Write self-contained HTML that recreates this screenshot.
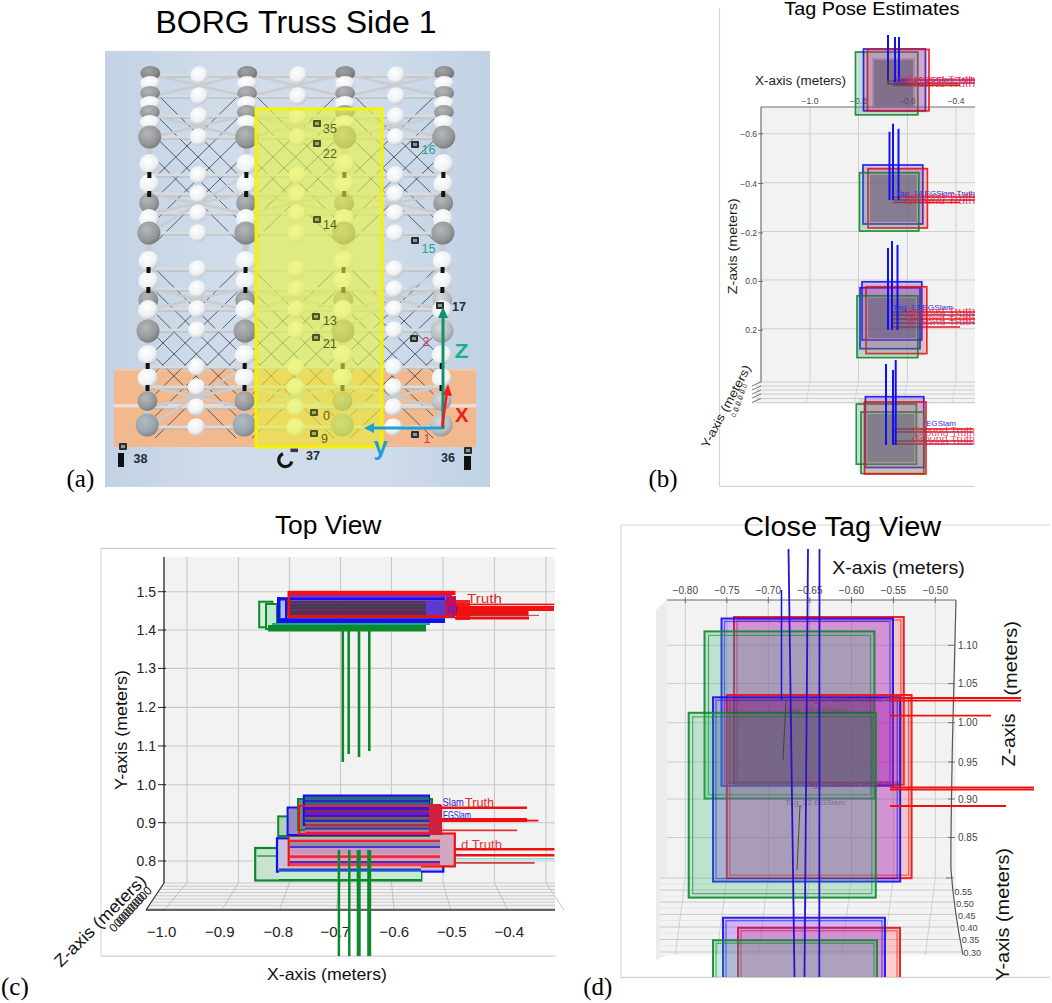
<!DOCTYPE html>
<html><head><meta charset="utf-8"><style>
html,body{margin:0;padding:0;background:#fff;overflow:hidden;}
svg{display:block;}
</style></head><body>
<svg width="1052" height="1003" viewBox="0 0 1052 1003">
<defs>
<linearGradient id="abg" x1="0" y1="0" x2="1" y2="0">
 <stop offset="0" stop-color="#c2d2e4"/><stop offset="0.3" stop-color="#d0dcea"/><stop offset="0.7" stop-color="#d0dcea"/><stop offset="1" stop-color="#c0d1e4"/>
</linearGradient>
<radialGradient id="gw" cx="0.4" cy="0.35" r="0.65"><stop offset="0" stop-color="#ffffff"/><stop offset="0.7" stop-color="#eef0f2"/><stop offset="1" stop-color="#c4c8cc"/></radialGradient>
<radialGradient id="gg" cx="0.4" cy="0.35" r="0.65"><stop offset="0" stop-color="#b4b6b8"/><stop offset="0.7" stop-color="#96989a"/><stop offset="1" stop-color="#7c7e80"/></radialGradient>
<radialGradient id="gl" cx="0.4" cy="0.35" r="0.65"><stop offset="0" stop-color="#d8dadc"/><stop offset="0.7" stop-color="#b8bcc0"/><stop offset="1" stop-color="#9aa0a6"/></radialGradient>
<radialGradient id="gbl" cx="0.4" cy="0.35" r="0.65"><stop offset="0" stop-color="#b4bcc4"/><stop offset="0.7" stop-color="#98a4ae"/><stop offset="1" stop-color="#808a94"/></radialGradient>
<radialGradient id="gd" cx="0.4" cy="0.35" r="0.65"><stop offset="0" stop-color="#a0a2a4"/><stop offset="0.7" stop-color="#86888a"/><stop offset="1" stop-color="#6c6e70"/></radialGradient>
</defs>
<text x="155.5" y="33" font-family="Liberation Sans" font-size="31" fill="#000" textLength="281" lengthAdjust="spacingAndGlyphs">BORG Truss Side 1</text>
<rect x="105" y="51" width="385" height="436" fill="url(#abg)"/>
<rect x="114" y="369" width="362" height="78" fill="#f2b98e"/>
<rect x="114" y="404" width="362" height="3.5" fill="#ecdcd4" stroke="none" stroke-width="1"/>
<rect x="114" y="369" width="362" height="2" fill="#f3c6a5" stroke="none" stroke-width="1"/>
<g transform="translate(0.9,0) skewX(-0.5)">
<line x1="158" y1="95" x2="239" y2="175" stroke="#2c3848" stroke-width="0.9" opacity="0.85"/>
<line x1="239" y1="95" x2="158" y2="175" stroke="#2c3848" stroke-width="0.9" opacity="0.85"/>
<line x1="158" y1="117" x2="239" y2="197" stroke="#2c3848" stroke-width="0.9" opacity="0.85"/>
<line x1="239" y1="117" x2="158" y2="197" stroke="#2c3848" stroke-width="0.9" opacity="0.85"/>
<line x1="158" y1="139" x2="239" y2="219" stroke="#2c3848" stroke-width="0.9" opacity="0.85"/>
<line x1="239" y1="139" x2="158" y2="219" stroke="#2c3848" stroke-width="0.9" opacity="0.85"/>
<line x1="158" y1="161" x2="239" y2="241" stroke="#2c3848" stroke-width="0.9" opacity="0.85"/>
<line x1="239" y1="161" x2="158" y2="241" stroke="#2c3848" stroke-width="0.9" opacity="0.85"/>
<line x1="158" y1="270" x2="239" y2="350" stroke="#2c3848" stroke-width="0.9" opacity="0.85"/>
<line x1="239" y1="270" x2="158" y2="350" stroke="#2c3848" stroke-width="0.9" opacity="0.85"/>
<line x1="158" y1="292" x2="239" y2="372" stroke="#2c3848" stroke-width="0.9" opacity="0.85"/>
<line x1="239" y1="292" x2="158" y2="372" stroke="#2c3848" stroke-width="0.9" opacity="0.85"/>
<line x1="158" y1="314" x2="239" y2="394" stroke="#2c3848" stroke-width="0.9" opacity="0.85"/>
<line x1="239" y1="314" x2="158" y2="394" stroke="#2c3848" stroke-width="0.9" opacity="0.85"/>
<line x1="158" y1="336" x2="239" y2="416" stroke="#2c3848" stroke-width="0.9" opacity="0.85"/>
<line x1="239" y1="336" x2="158" y2="416" stroke="#2c3848" stroke-width="0.9" opacity="0.85"/>
<line x1="158" y1="358" x2="239" y2="438" stroke="#2c3848" stroke-width="0.9" opacity="0.85"/>
<line x1="239" y1="358" x2="158" y2="438" stroke="#2c3848" stroke-width="0.9" opacity="0.85"/>
<line x1="255" y1="95" x2="337" y2="175" stroke="#2c3848" stroke-width="0.9" opacity="0.85"/>
<line x1="337" y1="95" x2="255" y2="175" stroke="#2c3848" stroke-width="0.9" opacity="0.85"/>
<line x1="255" y1="117" x2="337" y2="197" stroke="#2c3848" stroke-width="0.9" opacity="0.85"/>
<line x1="337" y1="117" x2="255" y2="197" stroke="#2c3848" stroke-width="0.9" opacity="0.85"/>
<line x1="255" y1="139" x2="337" y2="219" stroke="#2c3848" stroke-width="0.9" opacity="0.85"/>
<line x1="337" y1="139" x2="255" y2="219" stroke="#2c3848" stroke-width="0.9" opacity="0.85"/>
<line x1="255" y1="161" x2="337" y2="241" stroke="#2c3848" stroke-width="0.9" opacity="0.85"/>
<line x1="337" y1="161" x2="255" y2="241" stroke="#2c3848" stroke-width="0.9" opacity="0.85"/>
<line x1="255" y1="270" x2="337" y2="350" stroke="#2c3848" stroke-width="0.9" opacity="0.85"/>
<line x1="337" y1="270" x2="255" y2="350" stroke="#2c3848" stroke-width="0.9" opacity="0.85"/>
<line x1="255" y1="292" x2="337" y2="372" stroke="#2c3848" stroke-width="0.9" opacity="0.85"/>
<line x1="337" y1="292" x2="255" y2="372" stroke="#2c3848" stroke-width="0.9" opacity="0.85"/>
<line x1="255" y1="314" x2="337" y2="394" stroke="#2c3848" stroke-width="0.9" opacity="0.85"/>
<line x1="337" y1="314" x2="255" y2="394" stroke="#2c3848" stroke-width="0.9" opacity="0.85"/>
<line x1="255" y1="336" x2="337" y2="416" stroke="#2c3848" stroke-width="0.9" opacity="0.85"/>
<line x1="337" y1="336" x2="255" y2="416" stroke="#2c3848" stroke-width="0.9" opacity="0.85"/>
<line x1="255" y1="358" x2="337" y2="438" stroke="#2c3848" stroke-width="0.9" opacity="0.85"/>
<line x1="337" y1="358" x2="255" y2="438" stroke="#2c3848" stroke-width="0.9" opacity="0.85"/>
<line x1="353" y1="95" x2="436" y2="175" stroke="#2c3848" stroke-width="0.9" opacity="0.85"/>
<line x1="436" y1="95" x2="353" y2="175" stroke="#2c3848" stroke-width="0.9" opacity="0.85"/>
<line x1="353" y1="117" x2="436" y2="197" stroke="#2c3848" stroke-width="0.9" opacity="0.85"/>
<line x1="436" y1="117" x2="353" y2="197" stroke="#2c3848" stroke-width="0.9" opacity="0.85"/>
<line x1="353" y1="139" x2="436" y2="219" stroke="#2c3848" stroke-width="0.9" opacity="0.85"/>
<line x1="436" y1="139" x2="353" y2="219" stroke="#2c3848" stroke-width="0.9" opacity="0.85"/>
<line x1="353" y1="161" x2="436" y2="241" stroke="#2c3848" stroke-width="0.9" opacity="0.85"/>
<line x1="436" y1="161" x2="353" y2="241" stroke="#2c3848" stroke-width="0.9" opacity="0.85"/>
<line x1="353" y1="270" x2="436" y2="350" stroke="#2c3848" stroke-width="0.9" opacity="0.85"/>
<line x1="436" y1="270" x2="353" y2="350" stroke="#2c3848" stroke-width="0.9" opacity="0.85"/>
<line x1="353" y1="292" x2="436" y2="372" stroke="#2c3848" stroke-width="0.9" opacity="0.85"/>
<line x1="436" y1="292" x2="353" y2="372" stroke="#2c3848" stroke-width="0.9" opacity="0.85"/>
<line x1="353" y1="314" x2="436" y2="394" stroke="#2c3848" stroke-width="0.9" opacity="0.85"/>
<line x1="436" y1="314" x2="353" y2="394" stroke="#2c3848" stroke-width="0.9" opacity="0.85"/>
<line x1="353" y1="336" x2="436" y2="416" stroke="#2c3848" stroke-width="0.9" opacity="0.85"/>
<line x1="436" y1="336" x2="353" y2="416" stroke="#2c3848" stroke-width="0.9" opacity="0.85"/>
<line x1="353" y1="358" x2="436" y2="438" stroke="#2c3848" stroke-width="0.9" opacity="0.85"/>
<line x1="436" y1="358" x2="353" y2="438" stroke="#2c3848" stroke-width="0.9" opacity="0.85"/>
<line x1="150" y1="75" x2="444" y2="75" stroke="#d9dcdf" stroke-width="3"/>
<line x1="150" y1="77" x2="444" y2="77" stroke="#a9afb5" stroke-width="0.8"/>
<line x1="150" y1="96" x2="444" y2="96" stroke="#d9dcdf" stroke-width="3"/>
<line x1="150" y1="98" x2="444" y2="98" stroke="#a9afb5" stroke-width="0.8"/>
<line x1="150" y1="116" x2="444" y2="116" stroke="#d9dcdf" stroke-width="3"/>
<line x1="150" y1="118" x2="444" y2="118" stroke="#a9afb5" stroke-width="0.8"/>
<line x1="150" y1="137" x2="444" y2="137" stroke="#d9dcdf" stroke-width="3"/>
<line x1="150" y1="139" x2="444" y2="139" stroke="#a9afb5" stroke-width="0.8"/>
<line x1="150" y1="175" x2="444" y2="175" stroke="#d9dcdf" stroke-width="3"/>
<line x1="150" y1="177" x2="444" y2="177" stroke="#a9afb5" stroke-width="0.8"/>
<line x1="150" y1="194" x2="444" y2="194" stroke="#d9dcdf" stroke-width="3"/>
<line x1="150" y1="196" x2="444" y2="196" stroke="#a9afb5" stroke-width="0.8"/>
<line x1="150" y1="213" x2="444" y2="213" stroke="#d9dcdf" stroke-width="3"/>
<line x1="150" y1="215" x2="444" y2="215" stroke="#a9afb5" stroke-width="0.8"/>
<line x1="150" y1="233" x2="444" y2="233" stroke="#d9dcdf" stroke-width="3"/>
<line x1="150" y1="235" x2="444" y2="235" stroke="#a9afb5" stroke-width="0.8"/>
<line x1="150" y1="269" x2="444" y2="269" stroke="#d9dcdf" stroke-width="3"/>
<line x1="150" y1="271" x2="444" y2="271" stroke="#a9afb5" stroke-width="0.8"/>
<line x1="150" y1="289" x2="444" y2="289" stroke="#d9dcdf" stroke-width="3"/>
<line x1="150" y1="291" x2="444" y2="291" stroke="#a9afb5" stroke-width="0.8"/>
<line x1="150" y1="309" x2="444" y2="309" stroke="#d9dcdf" stroke-width="3"/>
<line x1="150" y1="311" x2="444" y2="311" stroke="#a9afb5" stroke-width="0.8"/>
<line x1="150" y1="330" x2="444" y2="330" stroke="#d9dcdf" stroke-width="3"/>
<line x1="150" y1="332" x2="444" y2="332" stroke="#a9afb5" stroke-width="0.8"/>
<line x1="150" y1="367" x2="444" y2="367" stroke="#d9dcdf" stroke-width="3"/>
<line x1="150" y1="369" x2="444" y2="369" stroke="#a9afb5" stroke-width="0.8"/>
<line x1="150" y1="387" x2="444" y2="387" stroke="#d9dcdf" stroke-width="3"/>
<line x1="150" y1="389" x2="444" y2="389" stroke="#a9afb5" stroke-width="0.8"/>
<line x1="150" y1="407" x2="444" y2="407" stroke="#d9dcdf" stroke-width="3"/>
<line x1="150" y1="409" x2="444" y2="409" stroke="#a9afb5" stroke-width="0.8"/>
<line x1="150" y1="427" x2="444" y2="427" stroke="#d9dcdf" stroke-width="3"/>
<line x1="150" y1="429" x2="444" y2="429" stroke="#a9afb5" stroke-width="0.8"/>
<line x1="158" y1="76" x2="239" y2="95" stroke="#c9cdd1" stroke-width="2.6"/>
<line x1="158" y1="95" x2="239" y2="76" stroke="#c9cdd1" stroke-width="2.6"/>
<line x1="158" y1="117" x2="239" y2="136" stroke="#c9cdd1" stroke-width="2.6"/>
<line x1="158" y1="136" x2="239" y2="117" stroke="#c9cdd1" stroke-width="2.6"/>
<line x1="158" y1="195" x2="239" y2="212" stroke="#c9cdd1" stroke-width="2.6"/>
<line x1="158" y1="212" x2="239" y2="195" stroke="#c9cdd1" stroke-width="2.6"/>
<line x1="158" y1="290" x2="239" y2="308" stroke="#c9cdd1" stroke-width="2.6"/>
<line x1="158" y1="308" x2="239" y2="290" stroke="#c9cdd1" stroke-width="2.6"/>
<line x1="158" y1="388" x2="239" y2="406" stroke="#c9cdd1" stroke-width="2.6"/>
<line x1="158" y1="406" x2="239" y2="388" stroke="#c9cdd1" stroke-width="2.6"/>
<line x1="255" y1="76" x2="337" y2="95" stroke="#c9cdd1" stroke-width="2.6"/>
<line x1="255" y1="95" x2="337" y2="76" stroke="#c9cdd1" stroke-width="2.6"/>
<line x1="255" y1="117" x2="337" y2="136" stroke="#c9cdd1" stroke-width="2.6"/>
<line x1="255" y1="136" x2="337" y2="117" stroke="#c9cdd1" stroke-width="2.6"/>
<line x1="255" y1="195" x2="337" y2="212" stroke="#c9cdd1" stroke-width="2.6"/>
<line x1="255" y1="212" x2="337" y2="195" stroke="#c9cdd1" stroke-width="2.6"/>
<line x1="255" y1="290" x2="337" y2="308" stroke="#c9cdd1" stroke-width="2.6"/>
<line x1="255" y1="308" x2="337" y2="290" stroke="#c9cdd1" stroke-width="2.6"/>
<line x1="255" y1="388" x2="337" y2="406" stroke="#c9cdd1" stroke-width="2.6"/>
<line x1="255" y1="406" x2="337" y2="388" stroke="#c9cdd1" stroke-width="2.6"/>
<line x1="353" y1="76" x2="436" y2="95" stroke="#c9cdd1" stroke-width="2.6"/>
<line x1="353" y1="95" x2="436" y2="76" stroke="#c9cdd1" stroke-width="2.6"/>
<line x1="353" y1="117" x2="436" y2="136" stroke="#c9cdd1" stroke-width="2.6"/>
<line x1="353" y1="136" x2="436" y2="117" stroke="#c9cdd1" stroke-width="2.6"/>
<line x1="353" y1="195" x2="436" y2="212" stroke="#c9cdd1" stroke-width="2.6"/>
<line x1="353" y1="212" x2="436" y2="195" stroke="#c9cdd1" stroke-width="2.6"/>
<line x1="353" y1="290" x2="436" y2="308" stroke="#c9cdd1" stroke-width="2.6"/>
<line x1="353" y1="308" x2="436" y2="290" stroke="#c9cdd1" stroke-width="2.6"/>
<line x1="353" y1="388" x2="436" y2="406" stroke="#c9cdd1" stroke-width="2.6"/>
<line x1="353" y1="406" x2="436" y2="388" stroke="#c9cdd1" stroke-width="2.6"/>
<line x1="150" y1="233" x2="247" y2="175" stroke="#c9cdd1" stroke-width="2.5"/>
<line x1="345" y1="330" x2="444" y2="269" stroke="#c9cdd1" stroke-width="2.5"/>
<line x1="150" y1="427" x2="247" y2="367" stroke="#c9cdd1" stroke-width="2.5"/>
<rect x="147" y="70" width="6" height="365" fill="#c8cccf" stroke="none" stroke-width="1"/>
<rect x="244" y="70" width="6" height="365" fill="#c8cccf" stroke="none" stroke-width="1"/>
<rect x="342" y="70" width="6" height="365" fill="#c8cccf" stroke="none" stroke-width="1"/>
<rect x="441" y="70" width="6" height="365" fill="#c8cccf" stroke="none" stroke-width="1"/>
<circle cx="199" cy="75" r="8.8" fill="url(#gw)"/>
<circle cx="199" cy="96" r="8.8" fill="url(#gw)"/>
<circle cx="199" cy="116" r="8.8" fill="url(#gw)"/>
<circle cx="199" cy="137" r="8.8" fill="url(#gw)"/>
<circle cx="199" cy="175" r="8.8" fill="url(#gw)"/>
<circle cx="199" cy="194" r="8.8" fill="url(#gw)"/>
<circle cx="199" cy="213" r="8.8" fill="url(#gw)"/>
<circle cx="199" cy="233" r="8.8" fill="url(#gw)"/>
<circle cx="199" cy="269" r="8.8" fill="url(#gw)"/>
<circle cx="199" cy="289" r="8.8" fill="url(#gw)"/>
<circle cx="199" cy="309" r="8.8" fill="url(#gw)"/>
<circle cx="199" cy="330" r="8.8" fill="url(#gw)"/>
<circle cx="199" cy="367" r="8.8" fill="url(#gw)"/>
<circle cx="199" cy="387" r="8.8" fill="url(#gw)"/>
<circle cx="199" cy="407" r="8.8" fill="url(#gw)"/>
<circle cx="199" cy="427" r="8.8" fill="url(#gw)"/>
<circle cx="298" cy="75" r="8.8" fill="url(#gw)"/>
<circle cx="298" cy="96" r="8.8" fill="url(#gw)"/>
<circle cx="298" cy="116" r="8.8" fill="url(#gw)"/>
<circle cx="298" cy="137" r="8.8" fill="url(#gw)"/>
<circle cx="298" cy="175" r="8.8" fill="url(#gw)"/>
<circle cx="298" cy="194" r="8.8" fill="url(#gw)"/>
<circle cx="298" cy="213" r="8.8" fill="url(#gw)"/>
<circle cx="298" cy="233" r="8.8" fill="url(#gw)"/>
<circle cx="298" cy="269" r="8.8" fill="url(#gw)"/>
<circle cx="298" cy="289" r="8.8" fill="url(#gw)"/>
<circle cx="298" cy="309" r="8.8" fill="url(#gw)"/>
<circle cx="298" cy="330" r="8.8" fill="url(#gw)"/>
<circle cx="298" cy="367" r="8.8" fill="url(#gw)"/>
<circle cx="298" cy="387" r="8.8" fill="url(#gw)"/>
<circle cx="298" cy="407" r="8.8" fill="url(#gw)"/>
<circle cx="298" cy="427" r="8.8" fill="url(#gw)"/>
<circle cx="396" cy="75" r="8.8" fill="url(#gw)"/>
<circle cx="396" cy="96" r="8.8" fill="url(#gw)"/>
<circle cx="396" cy="116" r="8.8" fill="url(#gw)"/>
<circle cx="396" cy="137" r="8.8" fill="url(#gw)"/>
<circle cx="396" cy="175" r="8.8" fill="url(#gw)"/>
<circle cx="396" cy="194" r="8.8" fill="url(#gw)"/>
<circle cx="396" cy="213" r="8.8" fill="url(#gw)"/>
<circle cx="396" cy="233" r="8.8" fill="url(#gw)"/>
<circle cx="396" cy="269" r="8.8" fill="url(#gw)"/>
<circle cx="396" cy="289" r="8.8" fill="url(#gw)"/>
<circle cx="396" cy="309" r="8.8" fill="url(#gw)"/>
<circle cx="396" cy="330" r="8.8" fill="url(#gw)"/>
<circle cx="396" cy="367" r="8.8" fill="url(#gw)"/>
<circle cx="396" cy="387" r="8.8" fill="url(#gw)"/>
<circle cx="396" cy="407" r="8.8" fill="url(#gw)"/>
<circle cx="396" cy="427" r="8.8" fill="url(#gw)"/>
<ellipse cx="150" cy="73" rx="10" ry="7" fill="url(#gd)"/>
<ellipse cx="150" cy="83" rx="10" ry="7" fill="url(#gw)"/>
<ellipse cx="150" cy="93" rx="10" ry="7" fill="url(#gg)"/>
<ellipse cx="150" cy="103" rx="10" ry="7" fill="url(#gw)"/>
<ellipse cx="150" cy="112" rx="10" ry="7" fill="url(#gg)"/>
<ellipse cx="150" cy="122" rx="10" ry="7" fill="url(#gw)"/>
<circle cx="150" cy="164" r="10" fill="url(#gw)"/>
<circle cx="150" cy="184" r="10" fill="url(#gw)"/>
<circle cx="150" cy="203" r="10" fill="url(#gg)"/>
<circle cx="150" cy="219" r="10" fill="url(#gw)"/>
<circle cx="150" cy="261" r="10" fill="url(#gw)"/>
<circle cx="150" cy="281" r="10" fill="url(#gw)"/>
<circle cx="150" cy="300" r="10" fill="url(#gg)"/>
<circle cx="150" cy="310" r="10" fill="url(#gw)"/>
<circle cx="150" cy="355" r="10" fill="url(#gw)"/>
<circle cx="150" cy="378" r="10" fill="url(#gw)"/>
<circle cx="150" cy="401" r="10" fill="url(#gg)"/>
<circle cx="150" cy="137" r="11.5" fill="url(#gg)"/>
<circle cx="150" cy="233" r="11.5" fill="url(#gg)"/>
<circle cx="150" cy="331" r="11.5" fill="url(#gg)"/>
<circle cx="150" cy="425" r="11.5" fill="url(#gbl)"/>
<rect x="148" y="172" width="4" height="6" fill="#111" stroke="none" stroke-width="1"/>
<rect x="148" y="191" width="4" height="6" fill="#111" stroke="none" stroke-width="1"/>
<rect x="148" y="267" width="4" height="6" fill="#111" stroke="none" stroke-width="1"/>
<rect x="148" y="287" width="4" height="6" fill="#111" stroke="none" stroke-width="1"/>
<rect x="148" y="363" width="4" height="6" fill="#111" stroke="none" stroke-width="1"/>
<rect x="148" y="385" width="4" height="6" fill="#111" stroke="none" stroke-width="1"/>
<ellipse cx="247" cy="73" rx="10" ry="7" fill="url(#gd)"/>
<ellipse cx="247" cy="83" rx="10" ry="7" fill="url(#gw)"/>
<ellipse cx="247" cy="93" rx="10" ry="7" fill="url(#gg)"/>
<ellipse cx="247" cy="103" rx="10" ry="7" fill="url(#gw)"/>
<ellipse cx="247" cy="112" rx="10" ry="7" fill="url(#gg)"/>
<ellipse cx="247" cy="122" rx="10" ry="7" fill="url(#gw)"/>
<circle cx="247" cy="164" r="10" fill="url(#gw)"/>
<circle cx="247" cy="184" r="10" fill="url(#gw)"/>
<circle cx="247" cy="203" r="10" fill="url(#gg)"/>
<circle cx="247" cy="219" r="10" fill="url(#gw)"/>
<circle cx="247" cy="261" r="10" fill="url(#gw)"/>
<circle cx="247" cy="281" r="10" fill="url(#gw)"/>
<circle cx="247" cy="300" r="10" fill="url(#gg)"/>
<circle cx="247" cy="310" r="10" fill="url(#gw)"/>
<circle cx="247" cy="355" r="10" fill="url(#gw)"/>
<circle cx="247" cy="378" r="10" fill="url(#gw)"/>
<circle cx="247" cy="401" r="10" fill="url(#gg)"/>
<circle cx="247" cy="137" r="11.5" fill="url(#gg)"/>
<circle cx="247" cy="233" r="11.5" fill="url(#gg)"/>
<circle cx="247" cy="331" r="11.5" fill="url(#gg)"/>
<circle cx="247" cy="425" r="11.5" fill="url(#gbl)"/>
<rect x="245" y="172" width="4" height="6" fill="#111" stroke="none" stroke-width="1"/>
<rect x="245" y="191" width="4" height="6" fill="#111" stroke="none" stroke-width="1"/>
<rect x="245" y="267" width="4" height="6" fill="#111" stroke="none" stroke-width="1"/>
<rect x="245" y="287" width="4" height="6" fill="#111" stroke="none" stroke-width="1"/>
<rect x="245" y="363" width="4" height="6" fill="#111" stroke="none" stroke-width="1"/>
<rect x="245" y="385" width="4" height="6" fill="#111" stroke="none" stroke-width="1"/>
<ellipse cx="345" cy="73" rx="10" ry="7" fill="url(#gd)"/>
<ellipse cx="345" cy="83" rx="10" ry="7" fill="url(#gw)"/>
<ellipse cx="345" cy="93" rx="10" ry="7" fill="url(#gg)"/>
<ellipse cx="345" cy="103" rx="10" ry="7" fill="url(#gw)"/>
<ellipse cx="345" cy="112" rx="10" ry="7" fill="url(#gg)"/>
<ellipse cx="345" cy="122" rx="10" ry="7" fill="url(#gw)"/>
<circle cx="345" cy="164" r="10" fill="url(#gw)"/>
<circle cx="345" cy="184" r="10" fill="url(#gw)"/>
<circle cx="345" cy="203" r="10" fill="url(#gg)"/>
<circle cx="345" cy="219" r="10" fill="url(#gw)"/>
<circle cx="345" cy="261" r="10" fill="url(#gw)"/>
<circle cx="345" cy="281" r="10" fill="url(#gw)"/>
<circle cx="345" cy="300" r="10" fill="url(#gg)"/>
<circle cx="345" cy="310" r="10" fill="url(#gw)"/>
<circle cx="345" cy="355" r="10" fill="url(#gw)"/>
<circle cx="345" cy="378" r="10" fill="url(#gw)"/>
<circle cx="345" cy="401" r="10" fill="url(#gg)"/>
<circle cx="345" cy="137" r="11.5" fill="url(#gg)"/>
<circle cx="345" cy="233" r="11.5" fill="url(#gg)"/>
<circle cx="345" cy="331" r="11.5" fill="url(#gg)"/>
<circle cx="345" cy="425" r="11.5" fill="url(#gbl)"/>
<rect x="343" y="172" width="4" height="6" fill="#111" stroke="none" stroke-width="1"/>
<rect x="343" y="191" width="4" height="6" fill="#111" stroke="none" stroke-width="1"/>
<rect x="343" y="267" width="4" height="6" fill="#111" stroke="none" stroke-width="1"/>
<rect x="343" y="287" width="4" height="6" fill="#111" stroke="none" stroke-width="1"/>
<rect x="343" y="363" width="4" height="6" fill="#111" stroke="none" stroke-width="1"/>
<rect x="343" y="385" width="4" height="6" fill="#111" stroke="none" stroke-width="1"/>
<ellipse cx="444" cy="73" rx="10" ry="7" fill="url(#gd)"/>
<ellipse cx="444" cy="83" rx="10" ry="7" fill="url(#gw)"/>
<ellipse cx="444" cy="93" rx="10" ry="7" fill="url(#gg)"/>
<ellipse cx="444" cy="103" rx="10" ry="7" fill="url(#gw)"/>
<ellipse cx="444" cy="112" rx="10" ry="7" fill="url(#gg)"/>
<ellipse cx="444" cy="122" rx="10" ry="7" fill="url(#gw)"/>
<circle cx="444" cy="164" r="10" fill="url(#gw)"/>
<circle cx="444" cy="184" r="10" fill="url(#gw)"/>
<circle cx="444" cy="203" r="10" fill="url(#gg)"/>
<circle cx="444" cy="219" r="10" fill="url(#gw)"/>
<circle cx="444" cy="261" r="10" fill="url(#gw)"/>
<circle cx="444" cy="281" r="10" fill="url(#gw)"/>
<circle cx="444" cy="300" r="10" fill="url(#gl)"/>
<circle cx="444" cy="310" r="10" fill="url(#gw)"/>
<circle cx="444" cy="355" r="10" fill="url(#gw)"/>
<circle cx="444" cy="378" r="10" fill="url(#gw)"/>
<circle cx="444" cy="401" r="10" fill="url(#gl)"/>
<circle cx="444" cy="137" r="11.5" fill="url(#gg)"/>
<circle cx="444" cy="233" r="11.5" fill="url(#gg)"/>
<circle cx="444" cy="331" r="11.5" fill="url(#gl)"/>
<circle cx="444" cy="425" r="11.5" fill="url(#gl)"/>
<rect x="442" y="172" width="4" height="6" fill="#111" stroke="none" stroke-width="1"/>
<rect x="442" y="191" width="4" height="6" fill="#111" stroke="none" stroke-width="1"/>
<rect x="442" y="267" width="4" height="6" fill="#111" stroke="none" stroke-width="1"/>
<rect x="442" y="287" width="4" height="6" fill="#111" stroke="none" stroke-width="1"/>
<rect x="442" y="363" width="4" height="6" fill="#111" stroke="none" stroke-width="1"/>
<rect x="442" y="385" width="4" height="6" fill="#111" stroke="none" stroke-width="1"/>
</g>
<rect x="256" y="109" width="126" height="338" fill="#e8f43c" fill-opacity="0.6" stroke="#f4f400" stroke-width="3"/>
<rect x="313" y="120" width="8" height="7" fill="#4c5420" stroke="none" stroke-width="1" rx="1"/>
<rect x="315" y="122" width="4" height="3" fill="#a0b060" stroke="none" stroke-width="1"/>
<text x="323" y="133" font-family="Liberation Sans" font-size="13" fill="#59621c" textLength="13.8" lengthAdjust="spacingAndGlyphs">35</text>
<rect x="313" y="140" width="8" height="7" fill="#4c5420" stroke="none" stroke-width="1" rx="1"/>
<rect x="315" y="142" width="4" height="3" fill="#a0b060" stroke="none" stroke-width="1"/>
<text x="323" y="158" font-family="Liberation Sans" font-size="13" fill="#59621c" textLength="13.8" lengthAdjust="spacingAndGlyphs">22</text>
<rect x="313" y="216" width="8" height="7" fill="#4c5420" stroke="none" stroke-width="1" rx="1"/>
<rect x="315" y="218" width="4" height="3" fill="#a0b060" stroke="none" stroke-width="1"/>
<text x="323" y="229" font-family="Liberation Sans" font-size="13" fill="#59621c" textLength="13.8" lengthAdjust="spacingAndGlyphs">14</text>
<rect x="312" y="313" width="8" height="7" fill="#4c5420" stroke="none" stroke-width="1" rx="1"/>
<rect x="314" y="315" width="4" height="3" fill="#a0b060" stroke="none" stroke-width="1"/>
<text x="323" y="325" font-family="Liberation Sans" font-size="13" fill="#59621c" textLength="13.8" lengthAdjust="spacingAndGlyphs">13</text>
<rect x="312" y="334" width="8" height="7" fill="#4c5420" stroke="none" stroke-width="1" rx="1"/>
<rect x="314" y="336" width="4" height="3" fill="#a0b060" stroke="none" stroke-width="1"/>
<text x="323" y="348" font-family="Liberation Sans" font-size="13" fill="#59621c" textLength="13.8" lengthAdjust="spacingAndGlyphs">21</text>
<rect x="310" y="409" width="8" height="7" fill="#4c5420" stroke="none" stroke-width="1" rx="1"/>
<rect x="312" y="411" width="4" height="3" fill="#a0b060" stroke="none" stroke-width="1"/>
<text x="323" y="420" font-family="Liberation Sans" font-size="13" fill="#59621c" textLength="7" lengthAdjust="spacingAndGlyphs">0</text>
<rect x="310" y="430" width="8" height="7" fill="#4c5420" stroke="none" stroke-width="1" rx="1"/>
<rect x="312" y="432" width="4" height="3" fill="#a0b060" stroke="none" stroke-width="1"/>
<text x="321" y="443" font-family="Liberation Sans" font-size="13" fill="#59621c" textLength="7" lengthAdjust="spacingAndGlyphs">9</text>
<rect x="411" y="141" width="8" height="7" fill="#2a2e30" stroke="none" stroke-width="1" rx="1"/>
<rect x="413" y="143" width="4" height="3" fill="#8a9a90" stroke="none" stroke-width="1"/>
<text x="421.5" y="154" font-family="Liberation Sans" font-size="12.5" fill="#1aa39a">16</text>
<rect x="411" y="237" width="8" height="7" fill="#2a2e30" stroke="none" stroke-width="1" rx="1"/>
<rect x="413" y="239" width="4" height="3" fill="#8a9a90" stroke="none" stroke-width="1"/>
<text x="421.5" y="252.5" font-family="Liberation Sans" font-size="12.5" fill="#1aa39a">15</text>
<rect x="436" y="302" width="8" height="7" fill="#2a2e30" stroke="none" stroke-width="1" rx="1"/>
<rect x="438" y="304" width="4" height="3" fill="#8a9a90" stroke="none" stroke-width="1"/>
<text x="452" y="310.5" font-family="Liberation Sans" font-size="12.5" fill="#1c2c3c" font-weight="bold">17</text>
<rect x="410" y="335" width="8" height="7" fill="#2a2e30" stroke="none" stroke-width="1" rx="1"/>
<rect x="412" y="337" width="4" height="3" fill="#8a9a90" stroke="none" stroke-width="1"/>
<text x="422.5" y="345.5" font-family="Liberation Sans" font-size="12.5" fill="#d83060">2</text>
<rect x="411" y="431" width="8" height="7" fill="#2a2e30" stroke="none" stroke-width="1" rx="1"/>
<rect x="413" y="433" width="4" height="3" fill="#8a9a90" stroke="none" stroke-width="1"/>
<text x="423.5" y="443" font-family="Liberation Sans" font-size="12.5" fill="#e03030">1</text>
<text x="306" y="460" font-family="Liberation Sans" font-size="12.5" fill="#1c2c3c" font-weight="bold">37</text>
<text x="441" y="462" font-family="Liberation Sans" font-size="12.5" fill="#1c2c3c" font-weight="bold">36</text>
<text x="133.5" y="463" font-family="Liberation Sans" font-size="12.5" fill="#1c2c3c" font-weight="bold">38</text>
<rect x="119" y="443" width="8" height="7" fill="#2a2e30" stroke="none" stroke-width="1" rx="1"/>
<rect x="121" y="445" width="4" height="3" fill="#8a9a90" stroke="none" stroke-width="1"/>
<rect x="118" y="453" width="6" height="14" fill="#111" stroke="none" stroke-width="1"/>
<rect x="464" y="447" width="8" height="7" fill="#2a2e30" stroke="none" stroke-width="1" rx="1"/>
<rect x="466" y="449" width="4" height="3" fill="#8a9a90" stroke="none" stroke-width="1"/>
<rect x="464" y="456" width="7" height="14" fill="#111" stroke="none" stroke-width="1"/>
<path d="M283 453.8 A6.6 6.6 0 1 0 291.8 461.5" stroke="#151515" stroke-width="3.2" fill="none"/>
<rect x="290.5" y="448.6" width="7.5" height="3.5" fill="#3a3060" stroke="none" stroke-width="1"/>
<line x1="443" y1="429" x2="443" y2="315" stroke="#12906a" stroke-width="3"/>
<path d="M443 307 L438 318 L448 318 Z" fill="#12906a"/>
<line x1="442" y1="428" x2="447" y2="392" stroke="#e82020" stroke-width="2.5"/>
<path d="M448 384 L443 395 L452 396 Z" fill="#e82020"/>
<line x1="442" y1="428" x2="372" y2="428" stroke="#1ca0d8" stroke-width="3"/>
<path d="M364 428 L374 423 L374 433 Z" fill="#1ca0d8"/>
<text x="454.5" y="358" font-family="Liberation Sans" font-size="21" fill="#18b088" textLength="14" lengthAdjust="spacingAndGlyphs" font-weight="bold">Z</text>
<text x="455" y="421.5" font-family="Liberation Sans" font-size="20" fill="#e82020" textLength="13.5" lengthAdjust="spacingAndGlyphs" font-weight="bold">X</text>
<text x="373.5" y="455" font-family="Liberation Sans" font-size="25" fill="#1ca0d8" textLength="14" lengthAdjust="spacingAndGlyphs" font-weight="bold">y</text>
<text x="66.5" y="487" font-family="Liberation Serif" font-size="25" fill="#000">(a)</text>
<text x="784.3" y="15.2" font-family="Liberation Sans" font-size="18.3" fill="#000" textLength="175" lengthAdjust="spacingAndGlyphs">Tag Pose Estimates</text>
<line x1="719.5" y1="8.5" x2="719.5" y2="486.5" stroke="#d4d4d4" stroke-width="1.2"/>
<line x1="719.5" y1="486.3" x2="974.5" y2="486.3" stroke="#d4d4d4" stroke-width="1.2"/>
<rect x="761" y="107" width="214" height="274" fill="#f2f2f2" stroke="none" stroke-width="1"/>
<path d="M761 381 L975 381 L975 404 L752 404 Z" fill="#f3f3f3"/>
<line x1="756" y1="382" x2="975" y2="382" stroke="#c8c8c8" stroke-width="0.9"/>
<line x1="756" y1="386" x2="975" y2="386" stroke="#c8c8c8" stroke-width="0.9"/>
<line x1="756" y1="390" x2="975" y2="390" stroke="#c8c8c8" stroke-width="0.9"/>
<line x1="756" y1="394" x2="975" y2="394" stroke="#c8c8c8" stroke-width="0.9"/>
<line x1="756" y1="398.5" x2="975" y2="398.5" stroke="#c8c8c8" stroke-width="0.9"/>
<line x1="756" y1="402.5" x2="975" y2="402.5" stroke="#c8c8c8" stroke-width="0.9"/>
<line x1="810" y1="107" x2="810" y2="381" stroke="#cfcfcf" stroke-width="1"/>
<line x1="810" y1="381" x2="806" y2="403" stroke="#cfcfcf" stroke-width="0.8"/>
<line x1="858.5" y1="107" x2="858.5" y2="381" stroke="#cfcfcf" stroke-width="1"/>
<line x1="858.5" y1="381" x2="854.5" y2="403" stroke="#cfcfcf" stroke-width="0.8"/>
<line x1="907.4" y1="107" x2="907.4" y2="381" stroke="#cfcfcf" stroke-width="1"/>
<line x1="907.4" y1="381" x2="903.4" y2="403" stroke="#cfcfcf" stroke-width="0.8"/>
<line x1="956" y1="107" x2="956" y2="381" stroke="#cfcfcf" stroke-width="1"/>
<line x1="956" y1="381" x2="952" y2="403" stroke="#cfcfcf" stroke-width="0.8"/>
<line x1="761" y1="133.8" x2="975" y2="133.8" stroke="#cfcfcf" stroke-width="1"/>
<line x1="761" y1="182.7" x2="975" y2="182.7" stroke="#cfcfcf" stroke-width="1"/>
<line x1="761" y1="231.5" x2="975" y2="231.5" stroke="#cfcfcf" stroke-width="1"/>
<line x1="761" y1="280" x2="975" y2="280" stroke="#cfcfcf" stroke-width="1"/>
<line x1="761" y1="328.7" x2="975" y2="328.7" stroke="#cfcfcf" stroke-width="1"/>
<line x1="761" y1="107" x2="975" y2="107" stroke="#707070" stroke-width="1.2"/>
<line x1="761" y1="107" x2="761" y2="382" stroke="#707070" stroke-width="1.2"/>
<line x1="752" y1="386" x2="761" y2="382" stroke="#555" stroke-width="0.8"/>
<line x1="752" y1="390" x2="761" y2="386" stroke="#555" stroke-width="0.8"/>
<line x1="752" y1="394" x2="761" y2="390" stroke="#555" stroke-width="0.8"/>
<line x1="752" y1="398" x2="761" y2="394" stroke="#555" stroke-width="0.8"/>
<line x1="752" y1="402.5" x2="761" y2="398.5" stroke="#555" stroke-width="0.8"/>
<text x="810" y="104" font-family="Liberation Sans" font-size="8.5" fill="#444" text-anchor="middle">−1.0</text>
<text x="858.5" y="104" font-family="Liberation Sans" font-size="8.5" fill="#444" text-anchor="middle">−0.8</text>
<text x="907.4" y="104" font-family="Liberation Sans" font-size="8.5" fill="#444" text-anchor="middle">−0.6</text>
<text x="956" y="104" font-family="Liberation Sans" font-size="8.5" fill="#444" text-anchor="middle">−0.4</text>
<text x="757" y="136.8" font-family="Liberation Sans" font-size="8.5" fill="#444" text-anchor="end">−0.6</text>
<line x1="758" y1="133.8" x2="763" y2="133.8" stroke="#555" stroke-width="0.8"/>
<text x="757" y="186.5" font-family="Liberation Sans" font-size="8.5" fill="#444" text-anchor="end">−0.4</text>
<line x1="758" y1="183.5" x2="763" y2="183.5" stroke="#555" stroke-width="0.8"/>
<text x="757" y="235.9" font-family="Liberation Sans" font-size="8.5" fill="#444" text-anchor="end">−0.2</text>
<line x1="758" y1="232.9" x2="763" y2="232.9" stroke="#555" stroke-width="0.8"/>
<text x="757" y="284.4" font-family="Liberation Sans" font-size="8.5" fill="#444" text-anchor="end">0.0</text>
<line x1="758" y1="281.4" x2="763" y2="281.4" stroke="#555" stroke-width="0.8"/>
<text x="757" y="333.2" font-family="Liberation Sans" font-size="8.5" fill="#444" text-anchor="end">0.2</text>
<line x1="758" y1="330.2" x2="763" y2="330.2" stroke="#555" stroke-width="0.8"/>
<text x="755" y="84.7" font-family="Liberation Sans" font-size="12" fill="#222" textLength="91" lengthAdjust="spacingAndGlyphs">X-axis (meters)</text>
<text x="737.4" y="294.3" font-family="Liberation Sans" font-size="12" fill="#222" textLength="96" lengthAdjust="spacingAndGlyphs" transform="rotate(-90 737.4 294.3)">Z-axis (meters)</text>
<text x="708" y="449" font-family="Liberation Sans" font-size="12" fill="#222" textLength="92" lengthAdjust="spacingAndGlyphs" transform="rotate(-62 708 449)">Y-axis (meters)</text>
<text x="735" y="418" font-family="Liberation Sans" font-size="7" fill="#555" transform="rotate(-62 735 418)">0.0</text>
<text x="737" y="412" font-family="Liberation Sans" font-size="7" fill="#555" transform="rotate(-62 737 412)">0.0</text>
<text x="739" y="406" font-family="Liberation Sans" font-size="7" fill="#555" transform="rotate(-62 739 406)">0.0</text>
<text x="741" y="400" font-family="Liberation Sans" font-size="7" fill="#555" transform="rotate(-62 741 400)">0.0</text>
<text x="743" y="394" font-family="Liberation Sans" font-size="7" fill="#555" transform="rotate(-62 743 394)">0.0</text>
<line x1="893" y1="80" x2="975" y2="80" stroke="#f01010" stroke-width="1.3"/>
<line x1="893" y1="83" x2="975" y2="83" stroke="#c02040" stroke-width="1.3"/>
<line x1="893" y1="85.5" x2="960" y2="85.5" stroke="#f01010" stroke-width="1.3"/>
<line x1="888" y1="81" x2="905" y2="81" stroke="#553060" stroke-width="1.3"/>
<rect x="855.5" y="52" width="62.299999999999955" height="62.8" fill="#37b86e" fill-opacity="0.2" stroke="#0a8a2a" stroke-opacity="0.9" stroke-width="1.7"/>
<rect x="863.5" y="49" width="61.89999999999998" height="61.8" fill="#760cff" fill-opacity="0.2" stroke="#1010f0" stroke-opacity="0.9" stroke-width="1.7"/>
<rect x="867.5" y="49.5" width="61.5" height="61.3" fill="#ff4949" fill-opacity="0.2" stroke="#f01010" stroke-opacity="0.9" stroke-width="1.7"/>
<rect x="872" y="58" width="43" height="50" fill="#6a5070" fill-opacity="0.25"/>
<rect x="874" y="60" width="39" height="46" fill="#404058" fill-opacity="0.36"/>
<rect x="857.5" y="51" width="69.5" height="61.8" fill="#484860" fill-opacity="0.12"/>
<line x1="888" y1="35" x2="888" y2="80" stroke="#1010f0" stroke-width="2"/>
<line x1="895" y1="37" x2="895" y2="82" stroke="#1010f0" stroke-width="2"/>
<line x1="899" y1="37" x2="899" y2="82" stroke="#1010f0" stroke-width="2"/>
<text x="896" y="82" font-family="Liberation Sans" font-size="7.5" fill="#8020b0" textLength="79" lengthAdjust="spacingAndGlyphs">Tag_14 EGSlam Truth</text>
<path d="M888 60 L888 84 L960 84" stroke="#403040" stroke-width="1.2" fill="none"/>
<line x1="893" y1="197" x2="975" y2="197" stroke="#f01010" stroke-width="1.3"/>
<line x1="893" y1="200" x2="975" y2="200" stroke="#c02040" stroke-width="1.3"/>
<line x1="893" y1="202.5" x2="960" y2="202.5" stroke="#f01010" stroke-width="1.3"/>
<rect x="863" y="165" width="59.799999999999955" height="59" fill="#760cff" fill-opacity="0.2" stroke="#1010f0" stroke-opacity="0.9" stroke-width="1.7"/>
<rect x="868" y="168.7" width="59.39999999999998" height="59.30000000000001" fill="#ff4949" fill-opacity="0.2" stroke="#f01010" stroke-opacity="0.9" stroke-width="1.7"/>
<rect x="859.5" y="172.7" width="59.299999999999955" height="58.30000000000001" fill="#37b86e" fill-opacity="0.2" stroke="#0a8a2a" stroke-opacity="0.9" stroke-width="1.7"/>
<rect x="870" y="174.7" width="46.799999999999955" height="47.30000000000001" fill="#404058" fill-opacity="0.36"/>
<rect x="861.5" y="167" width="63.89999999999998" height="62" fill="#484860" fill-opacity="0.12"/>
<line x1="889.5" y1="131.8" x2="889.5" y2="200" stroke="#1010f0" stroke-width="2"/>
<line x1="893" y1="123.8" x2="893" y2="200" stroke="#1010f0" stroke-width="2"/>
<line x1="898.5" y1="128.8" x2="898.5" y2="200" stroke="#1010f0" stroke-width="2"/>
<text x="896" y="196" font-family="Liberation Sans" font-size="7.5" fill="#3030e0" textLength="79" lengthAdjust="spacingAndGlyphs">Tag_14 EGSlam Truth</text>
<line x1="893" y1="312" x2="975" y2="312" stroke="#f01010" stroke-width="1.3"/>
<line x1="893" y1="315" x2="975" y2="315" stroke="#c02040" stroke-width="1.3"/>
<line x1="893" y1="319" x2="975" y2="319" stroke="#f01010" stroke-width="1.3"/>
<line x1="893" y1="323" x2="975" y2="323" stroke="#c02040" stroke-width="1.3"/>
<line x1="893" y1="327" x2="960" y2="327" stroke="#f01010" stroke-width="1.3"/>
<rect x="862" y="281.8" width="59.799999999999955" height="58.19999999999999" fill="#760cff" fill-opacity="0.2" stroke="#1010f0" stroke-opacity="0.9" stroke-width="1.7"/>
<rect x="860" y="287.8" width="60" height="60.89999999999998" fill="#760cff" fill-opacity="0.2" stroke="#1010f0" stroke-opacity="0.9" stroke-width="1.7"/>
<rect x="866" y="286.8" width="60.799999999999955" height="66.80000000000001" fill="#ff4949" fill-opacity="0.2" stroke="#f01010" stroke-opacity="0.9" stroke-width="1.7"/>
<rect x="857" y="295.8" width="60.799999999999955" height="61.80000000000001" fill="#37b86e" fill-opacity="0.2" stroke="#0a8a2a" stroke-opacity="0.9" stroke-width="1.7"/>
<rect x="868" y="297.8" width="47.799999999999955" height="40.19999999999999" fill="#404058" fill-opacity="0.36"/>
<rect x="859" y="283.8" width="65.79999999999995" height="71.80000000000001" fill="#484860" fill-opacity="0.12"/>
<line x1="888" y1="248" x2="888" y2="330" stroke="#1010f0" stroke-width="2"/>
<line x1="892" y1="241" x2="892" y2="330" stroke="#1010f0" stroke-width="2"/>
<line x1="897.5" y1="245" x2="897.5" y2="330" stroke="#1010f0" stroke-width="2"/>
<text x="893" y="310" font-family="Liberation Sans" font-size="7.5" fill="#3030e0" textLength="60" lengthAdjust="spacingAndGlyphs">Tag_13 EGSlam</text>
<line x1="893" y1="429" x2="973" y2="429" stroke="#f01010" stroke-width="1.3"/>
<line x1="893" y1="432" x2="973" y2="432" stroke="#c02040" stroke-width="1.3"/>
<line x1="893" y1="441" x2="973" y2="441" stroke="#f01010" stroke-width="1.3"/>
<line x1="893" y1="444" x2="973" y2="444" stroke="#c02040" stroke-width="1.3"/>
<rect x="865.4" y="396.7" width="58.39999999999998" height="70.80000000000001" fill="#760cff" fill-opacity="0.2" stroke="#1010f0" stroke-opacity="0.9" stroke-width="1.7"/>
<rect x="856.3" y="404" width="60.10000000000002" height="60.19999999999999" fill="#37b86e" fill-opacity="0.2" stroke="#0a8a2a" stroke-opacity="0.9" stroke-width="1.7"/>
<rect x="861" y="412" width="62.799999999999955" height="61.5" fill="#37b86e" fill-opacity="0.2" stroke="#0a8a2a" stroke-opacity="0.9" stroke-width="1.7"/>
<rect x="864.5" y="402" width="61.5" height="72" fill="#ff4949" fill-opacity="0.2" stroke="#f01010" stroke-opacity="0.9" stroke-width="1.7"/>
<rect x="867.4" y="414" width="47.0" height="48.19999999999999" fill="#404058" fill-opacity="0.36"/>
<rect x="858.3" y="398.7" width="65.70000000000005" height="73.30000000000001" fill="#484860" fill-opacity="0.12"/>
<line x1="886" y1="364" x2="886" y2="445" stroke="#1010f0" stroke-width="2"/>
<line x1="895.7" y1="360" x2="895.7" y2="445" stroke="#1010f0" stroke-width="2"/>
<line x1="893" y1="370" x2="893" y2="445" stroke="#1010f0" stroke-width="2"/>
<text x="926" y="426" font-family="Liberation Sans" font-size="7.5" fill="#3030e0" textLength="30" lengthAdjust="spacingAndGlyphs">EGSlam</text>
<text x="905" y="81" font-family="Liberation Sans" font-size="8" fill="#f02030" textLength="70" lengthAdjust="spacingAndGlyphs" fill-opacity="0.85">Ground Truth</text>
<text x="907" y="84" font-family="Liberation Sans" font-size="8" fill="#d03070" textLength="68" lengthAdjust="spacingAndGlyphs" fill-opacity="0.85">Ground Truth</text>
<text x="905" y="87" font-family="Liberation Sans" font-size="8" fill="#f02030" textLength="70" lengthAdjust="spacingAndGlyphs" fill-opacity="0.85">Ground Truth</text>
<text x="905" y="198" font-family="Liberation Sans" font-size="8" fill="#f02030" textLength="70" lengthAdjust="spacingAndGlyphs" fill-opacity="0.85">Ground Truth</text>
<text x="907" y="201" font-family="Liberation Sans" font-size="8" fill="#d03070" textLength="68" lengthAdjust="spacingAndGlyphs" fill-opacity="0.85">Ground Truth</text>
<text x="905" y="204" font-family="Liberation Sans" font-size="8" fill="#f02030" textLength="70" lengthAdjust="spacingAndGlyphs" fill-opacity="0.85">Ground Truth</text>
<text x="905" y="313" font-family="Liberation Sans" font-size="8" fill="#f02030" textLength="70" lengthAdjust="spacingAndGlyphs" fill-opacity="0.85">Ground Truth</text>
<text x="907" y="317" font-family="Liberation Sans" font-size="8" fill="#d03070" textLength="68" lengthAdjust="spacingAndGlyphs" fill-opacity="0.85">Ground Truth</text>
<text x="905" y="321" font-family="Liberation Sans" font-size="8" fill="#f02030" textLength="70" lengthAdjust="spacingAndGlyphs" fill-opacity="0.85">Ground Truth</text>
<text x="907" y="325" font-family="Liberation Sans" font-size="8" fill="#d03070" textLength="68" lengthAdjust="spacingAndGlyphs" fill-opacity="0.85">Ground Truth</text>
<text x="912" y="432" font-family="Liberation Sans" font-size="8" fill="#f02030" textLength="63" lengthAdjust="spacingAndGlyphs" fill-opacity="0.85">Ground Truth</text>
<text x="914" y="436" font-family="Liberation Sans" font-size="8" fill="#d03070" textLength="61" lengthAdjust="spacingAndGlyphs" fill-opacity="0.85">Ground Truth</text>
<text x="912" y="441" font-family="Liberation Sans" font-size="8" fill="#f02030" textLength="63" lengthAdjust="spacingAndGlyphs" fill-opacity="0.85">Ground Truth</text>
<text x="914" y="445" font-family="Liberation Sans" font-size="8" fill="#d03070" textLength="61" lengthAdjust="spacingAndGlyphs" fill-opacity="0.85">Ground Truth</text>
<text x="648.5" y="487" font-family="Liberation Serif" font-size="25" fill="#000">(b)</text>
<text x="274.9" y="533.6" font-family="Liberation Sans" font-size="25.5" fill="#000" textLength="106.5" lengthAdjust="spacingAndGlyphs">Top View</text>
<line x1="101" y1="548.3" x2="555.7" y2="548.3" stroke="#cfcfcf" stroke-width="1.2"/>
<line x1="101" y1="548.3" x2="101" y2="956.2" stroke="#dadada" stroke-width="1.2"/>
<line x1="101" y1="956.2" x2="555.7" y2="956.2" stroke="#cfcfcf" stroke-width="1.2"/>
<rect x="164" y="557" width="391" height="326" fill="#f2f2f2" stroke="none" stroke-width="1"/>
<path d="M164 883 L555 883 L555 910 L146 910 Z" fill="#f3f3f3"/>
<line x1="164.0" y1="883.0" x2="555" y2="883.0" stroke="#bdbdbd" stroke-width="0.8"/>
<line x1="161.85599999999997" y1="886.2" x2="555" y2="886.2" stroke="#bdbdbd" stroke-width="0.8"/>
<line x1="159.71200000000002" y1="889.4" x2="555" y2="889.4" stroke="#bdbdbd" stroke-width="0.8"/>
<line x1="157.56799999999998" y1="892.6" x2="555" y2="892.6" stroke="#bdbdbd" stroke-width="0.8"/>
<line x1="155.42400000000004" y1="895.8" x2="555" y2="895.8" stroke="#bdbdbd" stroke-width="0.8"/>
<line x1="153.28" y1="899.0" x2="555" y2="899.0" stroke="#bdbdbd" stroke-width="0.8"/>
<line x1="151.13599999999997" y1="902.2" x2="555" y2="902.2" stroke="#bdbdbd" stroke-width="0.8"/>
<line x1="148.99200000000002" y1="905.4" x2="555" y2="905.4" stroke="#bdbdbd" stroke-width="0.8"/>
<line x1="146.84799999999998" y1="908.6" x2="555" y2="908.6" stroke="#bdbdbd" stroke-width="0.8"/>
<line x1="187" y1="557" x2="187" y2="883" stroke="#c9c9c9" stroke-width="1.1"/>
<line x1="187" y1="883" x2="164.05" y2="910" stroke="#bcbcbc" stroke-width="0.9"/>
<line x1="238.5" y1="557" x2="238.5" y2="883" stroke="#c9c9c9" stroke-width="1.1"/>
<line x1="238.5" y1="883" x2="221.67000000000002" y2="910" stroke="#bcbcbc" stroke-width="0.9"/>
<line x1="289.5" y1="557" x2="289.5" y2="883" stroke="#c9c9c9" stroke-width="1.1"/>
<line x1="289.5" y1="883" x2="279.33" y2="910" stroke="#bcbcbc" stroke-width="0.9"/>
<line x1="340.5" y1="557" x2="340.5" y2="883" stroke="#c9c9c9" stroke-width="1.1"/>
<line x1="340.5" y1="883" x2="335.90999999999997" y2="910" stroke="#bcbcbc" stroke-width="0.9"/>
<line x1="391.5" y1="557" x2="391.5" y2="883" stroke="#c9c9c9" stroke-width="1.1"/>
<line x1="391.5" y1="883" x2="394.10999999999996" y2="910" stroke="#bcbcbc" stroke-width="0.9"/>
<line x1="443" y1="557" x2="443" y2="883" stroke="#c9c9c9" stroke-width="1.1"/>
<line x1="443" y1="883" x2="450.92" y2="910" stroke="#bcbcbc" stroke-width="0.9"/>
<line x1="494.5" y1="557" x2="494.5" y2="883" stroke="#c9c9c9" stroke-width="1.1"/>
<line x1="494.5" y1="883" x2="507.82" y2="910" stroke="#bcbcbc" stroke-width="0.9"/>
<line x1="546" y1="557" x2="546" y2="883" stroke="#c9c9c9" stroke-width="1.1"/>
<line x1="546" y1="883" x2="564.0" y2="910" stroke="#bcbcbc" stroke-width="0.9"/>
<line x1="164" y1="591.7" x2="555" y2="591.7" stroke="#c9c9c9" stroke-width="1.1"/>
<line x1="164" y1="630" x2="555" y2="630" stroke="#c9c9c9" stroke-width="1.1"/>
<line x1="164" y1="668.4" x2="555" y2="668.4" stroke="#c9c9c9" stroke-width="1.1"/>
<line x1="164" y1="707.4" x2="555" y2="707.4" stroke="#c9c9c9" stroke-width="1.1"/>
<line x1="164" y1="746" x2="555" y2="746" stroke="#c9c9c9" stroke-width="1.1"/>
<line x1="164" y1="784.7" x2="555" y2="784.7" stroke="#c9c9c9" stroke-width="1.1"/>
<line x1="164" y1="822.7" x2="555" y2="822.7" stroke="#c9c9c9" stroke-width="1.1"/>
<line x1="164" y1="861" x2="555" y2="861" stroke="#c9c9c9" stroke-width="1.1"/>
<line x1="164" y1="557" x2="164" y2="883" stroke="#222" stroke-width="1.3"/>
<line x1="164" y1="883" x2="146" y2="910" stroke="#222" stroke-width="1.1"/>
<line x1="146" y1="910" x2="555" y2="910" stroke="#333" stroke-width="1.3"/>
<text x="156" y="596.7" font-family="Liberation Sans" font-size="14" fill="#222" text-anchor="end">1.5</text>
<line x1="158" y1="591.7" x2="166" y2="591.7" stroke="#222" stroke-width="1"/>
<text x="156" y="635" font-family="Liberation Sans" font-size="14" fill="#222" text-anchor="end">1.4</text>
<line x1="158" y1="630" x2="166" y2="630" stroke="#222" stroke-width="1"/>
<text x="156" y="673.4" font-family="Liberation Sans" font-size="14" fill="#222" text-anchor="end">1.3</text>
<line x1="158" y1="668.4" x2="166" y2="668.4" stroke="#222" stroke-width="1"/>
<text x="156" y="712.4" font-family="Liberation Sans" font-size="14" fill="#222" text-anchor="end">1.2</text>
<line x1="158" y1="707.4" x2="166" y2="707.4" stroke="#222" stroke-width="1"/>
<text x="156" y="751" font-family="Liberation Sans" font-size="14" fill="#222" text-anchor="end">1.1</text>
<line x1="158" y1="746" x2="166" y2="746" stroke="#222" stroke-width="1"/>
<text x="156" y="789.7" font-family="Liberation Sans" font-size="14" fill="#222" text-anchor="end">1.0</text>
<line x1="158" y1="784.7" x2="166" y2="784.7" stroke="#222" stroke-width="1"/>
<text x="156" y="827.7" font-family="Liberation Sans" font-size="14" fill="#222" text-anchor="end">0.9</text>
<line x1="158" y1="822.7" x2="166" y2="822.7" stroke="#222" stroke-width="1"/>
<text x="156" y="866" font-family="Liberation Sans" font-size="14" fill="#222" text-anchor="end">0.8</text>
<line x1="158" y1="861" x2="166" y2="861" stroke="#222" stroke-width="1"/>
<text x="161.5" y="937" font-family="Liberation Sans" font-size="15" fill="#222" text-anchor="middle">−1.0</text>
<text x="219.8" y="937" font-family="Liberation Sans" font-size="15" fill="#222" text-anchor="middle">−0.9</text>
<text x="278.2" y="937" font-family="Liberation Sans" font-size="15" fill="#222" text-anchor="middle">−0.8</text>
<text x="335.4" y="937" font-family="Liberation Sans" font-size="15" fill="#222" text-anchor="middle">−0.7</text>
<text x="394.4" y="937" font-family="Liberation Sans" font-size="15" fill="#222" text-anchor="middle">−0.6</text>
<text x="451.8" y="937" font-family="Liberation Sans" font-size="15" fill="#222" text-anchor="middle">−0.5</text>
<text x="509.3" y="937" font-family="Liberation Sans" font-size="15" fill="#222" text-anchor="middle">−0.4</text>
<text x="267" y="980.3" font-family="Liberation Sans" font-size="17" fill="#111" textLength="120" lengthAdjust="spacingAndGlyphs">X-axis (meters)</text>
<text x="126.8" y="790" font-family="Liberation Sans" font-size="17" fill="#111" textLength="120" lengthAdjust="spacingAndGlyphs" transform="rotate(-90 126.8 790)">Y-axis (meters)</text>
<text x="61" y="968" font-family="Liberation Sans" font-size="17" fill="#111" textLength="122" lengthAdjust="spacingAndGlyphs" transform="rotate(-45 61 968)">Z-axis (meters)</text>
<text x="114.0" y="933" font-family="Liberation Sans" font-size="12" fill="#222" transform="rotate(-45 114.0 933)">0.0</text>
<text x="118.5" y="928" font-family="Liberation Sans" font-size="12" fill="#222" transform="rotate(-45 118.5 928)">0.0</text>
<text x="123.0" y="923" font-family="Liberation Sans" font-size="12" fill="#222" transform="rotate(-45 123.0 923)">0.0</text>
<text x="127.5" y="918" font-family="Liberation Sans" font-size="12" fill="#222" transform="rotate(-45 127.5 918)">0.0</text>
<text x="132.0" y="913" font-family="Liberation Sans" font-size="12" fill="#222" transform="rotate(-45 132.0 913)">0.0</text>
<text x="136.5" y="908" font-family="Liberation Sans" font-size="12" fill="#222" transform="rotate(-45 136.5 908)">0.0</text>
<text x="141.0" y="903" font-family="Liberation Sans" font-size="12" fill="#222" transform="rotate(-45 141.0 903)">0.0</text>
<rect x="455" y="603.6" width="99.39999999999998" height="1.6000000000000227" fill="#f01010" fill-opacity="1"/>
<rect x="455" y="606" width="99" height="5" fill="#f01010" fill-opacity="1"/>
<rect x="455" y="611" width="73.5" height="5" fill="#f01010" fill-opacity="1"/>
<rect x="455" y="616.5" width="74" height="3.0" fill="#f01010" fill-opacity="1"/>
<line x1="455" y1="615.3" x2="539" y2="615.3" stroke="#a04040" stroke-width="1"/>
<text x="467" y="602.8" font-family="Liberation Sans" font-size="12" fill="#e02828" textLength="35" lengthAdjust="spacingAndGlyphs">Truth</text>
<rect x="259.2" y="601.7" width="13.100000000000023" height="25.59999999999991" fill="#d4f0dc" fill-opacity="1" stroke="#0a8a2a" stroke-width="2"/>
<rect x="266" y="604" width="11" height="25" fill="#c0e8cc" fill-opacity="1" stroke="#0a8a2a" stroke-width="2"/>
<rect x="280" y="597" width="8" height="26" fill="#a8c0e8" fill-opacity="1"/>
<rect x="288" y="590.8" width="167.5" height="4.2000000000000455" fill="#f01010" fill-opacity="1"/>
<rect x="288" y="595" width="164" height="2.2000000000000455" fill="#a020c0" fill-opacity="1"/>
<rect x="277" y="597.2" width="168.60000000000002" height="3.2999999999999545" fill="#1010f0" fill-opacity="1"/>
<rect x="286" y="600.5" width="159" height="14.5" fill="#4a3658" fill-opacity="1"/>
<rect x="288" y="602.5" width="157" height="1.5" fill="#7a2a7a" fill-opacity="1"/>
<rect x="300" y="606" width="145" height="1.5" fill="#3f4a40" fill-opacity="1"/>
<rect x="290" y="609" width="155" height="1.5" fill="#7a2a60" fill-opacity="1"/>
<rect x="300" y="612.5" width="145" height="1.5" fill="#503058" fill-opacity="1"/>
<rect x="426" y="600.5" width="19" height="14.5" fill="#5a3ad0" fill-opacity="1"/>
<rect x="288" y="615" width="167" height="3.2000000000000455" fill="#f01010" fill-opacity="1"/>
<rect x="277" y="618.2" width="168" height="4.7999999999999545" fill="#1010f0" fill-opacity="1"/>
<rect x="272" y="623" width="158" height="2" fill="#22a888" fill-opacity="1"/>
<rect x="268" y="625" width="158" height="6.5" fill="#0a8a2a" fill-opacity="1"/>
<rect x="277" y="597" width="3.5" height="26" fill="#1010f0" fill-opacity="1"/>
<rect x="285" y="600" width="2.5" height="21" fill="#1010f0" fill-opacity="1"/>
<rect x="287.5" y="591" width="2.5" height="27" fill="#f01010" fill-opacity="1"/>
<rect x="445" y="600" width="10" height="18" fill="#c02040" fill-opacity="1"/>
<rect x="450" y="596" width="6" height="19" fill="#f01010" fill-opacity="1"/>
<rect x="446" y="597" width="10" height="18" fill="#c01060" fill-opacity="1"/>
<rect x="456" y="600" width="14" height="20" fill="#f01010" fill-opacity="0.9"/>
<text x="447" y="612" font-family="Liberation Sans" font-size="10" fill="#6020d0" textLength="10" lengthAdjust="spacingAndGlyphs">ag</text>
<line x1="342.8" y1="631" x2="342.8" y2="762" stroke="#0a8a2a" stroke-width="2.6"/>
<line x1="348.7" y1="631" x2="348.7" y2="754" stroke="#0a8a2a" stroke-width="2.6"/>
<line x1="359" y1="631" x2="359" y2="757" stroke="#0a8a2a" stroke-width="2.6"/>
<line x1="369.3" y1="631" x2="369.3" y2="751" stroke="#0a8a2a" stroke-width="2.6"/>
<rect x="441" y="806.5" width="86" height="2.5" fill="#f01010" fill-opacity="1"/>
<rect x="441" y="819.7" width="97.39999999999998" height="1.7999999999999545" fill="#f01010" fill-opacity="1"/>
<rect x="441" y="818" width="86" height="4" fill="#f01010" fill-opacity="1"/>
<rect x="441" y="829.5" width="76" height="1.7000000000000455" fill="#e03030" fill-opacity="1"/>
<rect x="455" y="848" width="99.39999999999998" height="2.5" fill="#f01010" fill-opacity="1"/>
<rect x="455" y="854" width="99.39999999999998" height="2.5" fill="#f01010" fill-opacity="1"/>
<rect x="455" y="862" width="79.60000000000002" height="1.7999999999999545" fill="#d04040" fill-opacity="1"/>
<rect x="455" y="858" width="99" height="1.5" fill="#80e0e0" fill-opacity="1"/>
<text x="465" y="807" font-family="Liberation Sans" font-size="12" fill="#e02828" textLength="29" lengthAdjust="spacingAndGlyphs">Truth</text>
<text x="461" y="848.9" font-family="Liberation Sans" font-size="13" fill="#e03838" textLength="41" lengthAdjust="spacingAndGlyphs">d Truth</text>
<text x="442.6" y="806.3" font-family="Liberation Sans" font-size="11" fill="#4020c0" textLength="21.3" lengthAdjust="spacingAndGlyphs">Slam</text>
<text x="443" y="819.2" font-family="Liberation Sans" font-size="10" fill="#3020d0" textLength="28" lengthAdjust="spacingAndGlyphs">EGSlam</text>
<rect x="255.2" y="848" width="166.10000000000002" height="32.5" fill="#c8e4d0" fill-opacity="1" stroke="#0a8a2a" stroke-width="2.2"/>
<line x1="257" y1="856" x2="277" y2="856" stroke="#0a8a2a" stroke-width="1.2"/>
<rect x="277" y="838.3" width="166.3" height="33.30000000000007" fill="#c8c0dc" fill-opacity="1" stroke="#1010f0" stroke-width="2.2"/>
<rect x="288.7" y="833.5" width="166.10000000000002" height="32.89999999999998" fill="#d0a8c0" fill-opacity="1" stroke="#f01010" stroke-width="2.2"/>
<rect x="278.2" y="816.4" width="150.8" height="19.600000000000023" fill="#b0d0b8" fill-opacity="1" stroke="#0a8a2a" stroke-width="2"/>
<rect x="287.6" y="807.5" width="141.39999999999998" height="27.5" fill="#9a88c0" fill-opacity="1" stroke="#1010f0" stroke-width="2"/>
<rect x="298" y="799" width="134" height="31" fill="#6a8a78" fill-opacity="1" stroke="#0a8a2a" stroke-width="2"/>
<rect x="303.8" y="795.5" width="125.19999999999999" height="29.5" fill="#5a4888" fill-opacity="1" stroke="#1010f0" stroke-width="2"/>
<rect x="299" y="806" width="142" height="28" fill="#a04070" fill-opacity="0.0" stroke="#f01010" stroke-width="2"/>
<rect x="305" y="797.3" width="124" height="2.7000000000000455" fill="#207080" fill-opacity="1"/>
<rect x="305" y="800" width="124" height="2" fill="#3020c0" fill-opacity="1"/>
<rect x="305" y="802" width="124" height="2.6000000000000227" fill="#207080" fill-opacity="1"/>
<rect x="305" y="804.6" width="124" height="2.1000000000000227" fill="#d03060" fill-opacity="1"/>
<rect x="305" y="807" width="124" height="3.3999999999999773" fill="#3a18d0" fill-opacity="1"/>
<rect x="305" y="810.4" width="124" height="1.6000000000000227" fill="#903040" fill-opacity="1"/>
<rect x="305" y="812" width="124" height="3" fill="#8010c0" fill-opacity="1"/>
<rect x="305" y="815" width="124" height="2" fill="#2020d0" fill-opacity="1"/>
<rect x="305" y="817" width="124" height="2" fill="#806030" fill-opacity="1"/>
<rect x="305" y="820" width="124" height="2" fill="#3020d0" fill-opacity="1"/>
<rect x="305" y="822" width="124" height="2.5" fill="#708070" fill-opacity="1"/>
<rect x="305" y="824.5" width="124" height="2.1000000000000227" fill="#e02030" fill-opacity="1"/>
<rect x="305" y="827.6" width="124" height="2.1000000000000227" fill="#3030d0" fill-opacity="1"/>
<rect x="305" y="829.7" width="124" height="2.099999999999909" fill="#c08090" fill-opacity="1"/>
<rect x="305" y="831.8" width="124" height="3.2000000000000455" fill="#f01830" fill-opacity="1"/>
<rect x="429" y="804" width="12" height="31" fill="#d02040" fill-opacity="1"/>
<rect x="290" y="839.7" width="150" height="2.599999999999909" fill="#f02030" fill-opacity="1"/>
<rect x="290" y="842.3" width="150" height="3.7000000000000455" fill="#9090a8" fill-opacity="1"/>
<rect x="290" y="846" width="150" height="2" fill="#5030d0" fill-opacity="1"/>
<rect x="290" y="848" width="150" height="5.7999999999999545" fill="#c898c0" fill-opacity="1"/>
<rect x="290" y="855.3" width="150" height="2.7000000000000455" fill="#f02838" fill-opacity="1"/>
<rect x="290" y="858" width="150" height="3" fill="#e0a0b0" fill-opacity="1"/>
<rect x="290" y="861" width="150" height="2" fill="#4030d0" fill-opacity="1"/>
<rect x="290" y="863" width="150" height="3.2999999999999545" fill="#f04050" fill-opacity="1"/>
<rect x="279" y="866.3" width="142" height="2.1000000000000227" fill="#e8c0c8" fill-opacity="1"/>
<rect x="279" y="868.4" width="142" height="3.2000000000000455" fill="#2050d0" fill-opacity="1"/>
<rect x="279" y="871.6" width="142" height="7.399999999999977" fill="#c8e8d0" fill-opacity="1"/>
<rect x="279" y="879" width="142" height="2" fill="#0a8a2a" fill-opacity="1"/>
<line x1="338.9" y1="850" x2="338.9" y2="956" stroke="#0a8a2a" stroke-width="2.5"/>
<line x1="349.3" y1="850" x2="349.3" y2="956" stroke="#0a8a2a" stroke-width="2.5"/>
<line x1="358.7" y1="850" x2="358.7" y2="956" stroke="#0a8a2a" stroke-width="4"/>
<line x1="369.2" y1="850" x2="369.2" y2="956" stroke="#0a8a2a" stroke-width="4"/>
<text x="1" y="995" font-family="Liberation Serif" font-size="25" fill="#000">(c)</text>
<line x1="621" y1="525" x2="1050" y2="525" stroke="#d4d4d4" stroke-width="1.2"/>
<line x1="621" y1="525" x2="621" y2="977.3" stroke="#dcdcdc" stroke-width="1.2"/>
<line x1="621" y1="977.3" x2="1050" y2="977.3" stroke="#cfcfcf" stroke-width="1.2"/>
<text x="743.2" y="535.5" font-family="Liberation Sans" font-size="27" fill="#000" textLength="198" lengthAdjust="spacingAndGlyphs">Close Tag View</text>
<path d="M656 610 L667 600 L667 955 L656 960 Z" fill="#ececec"/>
<rect x="667" y="600" width="289" height="290" fill="#f2f2f2" stroke="none" stroke-width="1"/>
<path d="M660 878 L951 878 Q955 910 963 955 L660 955 Z" fill="#f3f3f3"/>
<line x1="660" y1="878" x2="955.0" y2="878" stroke="#c4c4c4" stroke-width="0.9"/>
<line x1="660" y1="890" x2="956.2" y2="890" stroke="#c4c4c4" stroke-width="0.9"/>
<line x1="660" y1="902" x2="957.4" y2="902" stroke="#c4c4c4" stroke-width="0.9"/>
<line x1="660" y1="914.4" x2="958.64" y2="914.4" stroke="#c4c4c4" stroke-width="0.9"/>
<line x1="660" y1="927" x2="959.9" y2="927" stroke="#c4c4c4" stroke-width="0.9"/>
<line x1="660" y1="939.5" x2="961.15" y2="939.5" stroke="#c4c4c4" stroke-width="0.9"/>
<line x1="660" y1="952" x2="962.4" y2="952" stroke="#c4c4c4" stroke-width="0.9"/>
<line x1="660" y1="884" x2="955" y2="884" stroke="#e2e2e2" stroke-width="0.8"/>
<line x1="660" y1="896" x2="955" y2="896" stroke="#e2e2e2" stroke-width="0.8"/>
<line x1="660" y1="908" x2="955" y2="908" stroke="#e2e2e2" stroke-width="0.8"/>
<line x1="660" y1="920.5" x2="955" y2="920.5" stroke="#e2e2e2" stroke-width="0.8"/>
<line x1="660" y1="933" x2="955" y2="933" stroke="#e2e2e2" stroke-width="0.8"/>
<line x1="660" y1="946" x2="955" y2="946" stroke="#e2e2e2" stroke-width="0.8"/>
<line x1="685.3" y1="600" x2="685.3" y2="878" stroke="#cdcdcd" stroke-width="1"/>
<line x1="685.3" y1="878" x2="675.3" y2="955" stroke="#c8c8c8" stroke-width="0.8"/>
<line x1="726.8" y1="600" x2="726.8" y2="878" stroke="#cdcdcd" stroke-width="1"/>
<line x1="726.8" y1="878" x2="716.8" y2="955" stroke="#c8c8c8" stroke-width="0.8"/>
<line x1="768.3" y1="600" x2="768.3" y2="878" stroke="#cdcdcd" stroke-width="1"/>
<line x1="768.3" y1="878" x2="758.3" y2="955" stroke="#c8c8c8" stroke-width="0.8"/>
<line x1="809.8" y1="600" x2="809.8" y2="878" stroke="#cdcdcd" stroke-width="1"/>
<line x1="809.8" y1="878" x2="799.8" y2="955" stroke="#c8c8c8" stroke-width="0.8"/>
<line x1="851.5" y1="600" x2="851.5" y2="878" stroke="#cdcdcd" stroke-width="1"/>
<line x1="851.5" y1="878" x2="841.5" y2="955" stroke="#c8c8c8" stroke-width="0.8"/>
<line x1="893.4" y1="600" x2="893.4" y2="878" stroke="#cdcdcd" stroke-width="1"/>
<line x1="893.4" y1="878" x2="883.4" y2="955" stroke="#c8c8c8" stroke-width="0.8"/>
<line x1="935.3" y1="600" x2="935.3" y2="878" stroke="#cdcdcd" stroke-width="1"/>
<line x1="935.3" y1="878" x2="925.3" y2="955" stroke="#c8c8c8" stroke-width="0.8"/>
<line x1="667" y1="645.3" x2="953" y2="645.3" stroke="#cdcdcd" stroke-width="1"/>
<line x1="667" y1="683.6" x2="953" y2="683.6" stroke="#cdcdcd" stroke-width="1"/>
<line x1="667" y1="722.7" x2="953" y2="722.7" stroke="#cdcdcd" stroke-width="1"/>
<line x1="667" y1="762" x2="953" y2="762" stroke="#cdcdcd" stroke-width="1"/>
<line x1="667" y1="799" x2="953" y2="799" stroke="#cdcdcd" stroke-width="1"/>
<line x1="667" y1="837.5" x2="953" y2="837.5" stroke="#cdcdcd" stroke-width="1"/>
<line x1="667" y1="600" x2="956" y2="600" stroke="#666" stroke-width="1.2"/>
<path d="M956 600 L952.5 740 Q950.5 850 951 870 Q954 910 963 955" stroke="#555" stroke-width="1.2" fill="none"/>
<text x="685.3" y="594" font-family="Liberation Sans" font-size="10" fill="#444" text-anchor="middle">−0.80</text>
<line x1="685.3" y1="597" x2="685.3" y2="603" stroke="#555" stroke-width="0.8"/>
<text x="726.8" y="594" font-family="Liberation Sans" font-size="10" fill="#444" text-anchor="middle">−0.75</text>
<line x1="726.8" y1="597" x2="726.8" y2="603" stroke="#555" stroke-width="0.8"/>
<text x="768.3" y="594" font-family="Liberation Sans" font-size="10" fill="#444" text-anchor="middle">−0.70</text>
<line x1="768.3" y1="597" x2="768.3" y2="603" stroke="#555" stroke-width="0.8"/>
<text x="809.8" y="594" font-family="Liberation Sans" font-size="10" fill="#444" text-anchor="middle">−0.65</text>
<line x1="809.8" y1="597" x2="809.8" y2="603" stroke="#555" stroke-width="0.8"/>
<text x="851.5" y="594" font-family="Liberation Sans" font-size="10" fill="#444" text-anchor="middle">−0.60</text>
<line x1="851.5" y1="597" x2="851.5" y2="603" stroke="#555" stroke-width="0.8"/>
<text x="893.4" y="594" font-family="Liberation Sans" font-size="10" fill="#444" text-anchor="middle">−0.55</text>
<line x1="893.4" y1="597" x2="893.4" y2="603" stroke="#555" stroke-width="0.8"/>
<text x="935.3" y="594" font-family="Liberation Sans" font-size="10" fill="#444" text-anchor="middle">−0.50</text>
<line x1="935.3" y1="597" x2="935.3" y2="603" stroke="#555" stroke-width="0.8"/>
<text x="958" y="648.8" font-family="Liberation Sans" font-size="10" fill="#444">1.10</text>
<line x1="948" y1="645.3" x2="955" y2="645.3" stroke="#555" stroke-width="0.8"/>
<text x="958" y="687.1" font-family="Liberation Sans" font-size="10" fill="#444">1.05</text>
<line x1="948" y1="683.6" x2="955" y2="683.6" stroke="#555" stroke-width="0.8"/>
<text x="958" y="726.2" font-family="Liberation Sans" font-size="10" fill="#444">1.00</text>
<line x1="948" y1="722.7" x2="955" y2="722.7" stroke="#555" stroke-width="0.8"/>
<text x="958" y="765.5" font-family="Liberation Sans" font-size="10" fill="#444">0.95</text>
<line x1="948" y1="762" x2="955" y2="762" stroke="#555" stroke-width="0.8"/>
<text x="958" y="802.5" font-family="Liberation Sans" font-size="10" fill="#444">0.90</text>
<line x1="948" y1="799" x2="955" y2="799" stroke="#555" stroke-width="0.8"/>
<text x="958" y="841.0" font-family="Liberation Sans" font-size="10" fill="#444">0.85</text>
<line x1="948" y1="837.5" x2="955" y2="837.5" stroke="#555" stroke-width="0.8"/>
<text x="954.5" y="895.2" font-family="Liberation Sans" font-size="9" fill="#444">0.55</text>
<text x="956.3" y="907.2" font-family="Liberation Sans" font-size="9" fill="#444">0.50</text>
<text x="958.1" y="919.2" font-family="Liberation Sans" font-size="9" fill="#444">0.45</text>
<text x="959.9" y="931.2" font-family="Liberation Sans" font-size="9" fill="#444">0.40</text>
<text x="961.7" y="943.2" font-family="Liberation Sans" font-size="9" fill="#444">0.35</text>
<text x="963.5" y="956.2" font-family="Liberation Sans" font-size="9" fill="#444">0.30</text>
<line x1="946" y1="878" x2="953" y2="878" stroke="#555" stroke-width="0.8"/>
<text x="832.3" y="574.2" font-family="Liberation Sans" font-size="17.5" fill="#111" textLength="132.5" lengthAdjust="spacingAndGlyphs">X-axis (meters)</text>
<text x="1016.8" y="695.6" font-family="Liberation Sans" font-size="17.5" fill="#111" textLength="74.6" lengthAdjust="spacingAndGlyphs" transform="rotate(-90 1016.8 695.6)">(meters)</text>
<text x="1014.5" y="766.5" font-family="Liberation Sans" font-size="17.5" fill="#111" textLength="53" lengthAdjust="spacingAndGlyphs" transform="rotate(-90 1014.5 766.5)">Z-axis</text>
<text x="1008.5" y="981" font-family="Liberation Sans" font-size="17.5" fill="#111" textLength="133" lengthAdjust="spacingAndGlyphs" transform="rotate(-90 1008.5 981)">Y-axis (meters)</text>
<clipPath id="dclip"><rect x="621" y="525" width="431" height="452"/></clipPath>
<g clip-path="url(#dclip)">
<rect x="734" y="617" width="169.79999999999995" height="167.70000000000005" fill="#ff4949" fill-opacity="0.27" stroke="#f01010" stroke-opacity="0.9" stroke-width="2"/>
<rect x="737" y="620" width="163.79999999999995" height="161.70000000000005" fill="none" stroke="#f01010" stroke-opacity="0.6" stroke-width="1.2"/>
<rect x="721.5" y="618.5" width="171.5" height="167.29999999999995" fill="#760cff" fill-opacity="0.27" stroke="#1010f0" stroke-opacity="0.9" stroke-width="2"/>
<rect x="724.5" y="621.5" width="165.5" height="161.29999999999995" fill="none" stroke="#1010f0" stroke-opacity="0.6" stroke-width="1.2"/>
<rect x="704.5" y="631.4" width="170.0" height="167.20000000000005" fill="#37b86e" fill-opacity="0.27" stroke="#0a8a2a" stroke-opacity="0.9" stroke-width="2"/>
<rect x="708.5" y="635.4" width="162.0" height="159.20000000000005" fill="none" stroke="#0a8a2a" stroke-opacity="0.6" stroke-width="1.2"/>
<rect x="726.8" y="695" width="184.80000000000007" height="183.20000000000005" fill="#ff4949" fill-opacity="0.27" stroke="#f01010" stroke-opacity="0.9" stroke-width="2"/>
<rect x="729.8" y="698" width="178.80000000000007" height="177.20000000000005" fill="none" stroke="#f01010" stroke-opacity="0.6" stroke-width="1.2"/>
<rect x="713" y="697.3" width="187.20000000000005" height="184.30000000000007" fill="#760cff" fill-opacity="0.27" stroke="#1010f0" stroke-opacity="0.9" stroke-width="2"/>
<rect x="716" y="700.3" width="181.20000000000005" height="178.30000000000007" fill="none" stroke="#1010f0" stroke-opacity="0.6" stroke-width="1.2"/>
<rect x="688.7" y="712.8" width="187.0999999999999" height="184.80000000000007" fill="#37b86e" fill-opacity="0.27" stroke="#0a8a2a" stroke-opacity="0.9" stroke-width="2"/>
<rect x="692.7" y="716.8" width="179.0999999999999" height="176.80000000000007" fill="none" stroke="#0a8a2a" stroke-opacity="0.6" stroke-width="1.2"/>
<rect x="728" y="699" width="146" height="85" fill="#3c283c" fill-opacity="0.25"/>
<rect x="738" y="927.8" width="162" height="62.200000000000045" fill="#ff4949" fill-opacity="0.27" stroke="#f01010" stroke-opacity="0.9" stroke-width="2"/>
<rect x="741" y="930.8" width="156" height="56.200000000000045" fill="none" stroke="#f01010" stroke-opacity="0.6" stroke-width="1.2"/>
<rect x="723" y="917.7" width="162" height="72.29999999999995" fill="#760cff" fill-opacity="0.27" stroke="#1010f0" stroke-opacity="0.9" stroke-width="2"/>
<rect x="726" y="920.7" width="156" height="66.29999999999995" fill="none" stroke="#1010f0" stroke-opacity="0.6" stroke-width="1.2"/>
<rect x="713" y="940.3" width="164" height="49.700000000000045" fill="#37b86e" fill-opacity="0.27" stroke="#0a8a2a" stroke-opacity="0.9" stroke-width="2"/>
<rect x="716" y="943.3" width="158" height="43.700000000000045" fill="none" stroke="#0a8a2a" stroke-opacity="0.6" stroke-width="1.2"/>
</g>
<text x="806" y="702" font-family="Liberation Sans" font-size="8" fill="#902070" textLength="95" lengthAdjust="spacingAndGlyphs" fill-opacity="0.8">Tag_21 EGSlam Ground Truth</text>
<text x="787" y="713" font-family="Liberation Sans" font-size="8" fill="#505050" textLength="60" lengthAdjust="spacingAndGlyphs" fill-opacity="0.7">Tag_21 EGSlam</text>
<text x="806" y="787" font-family="Liberation Sans" font-size="8" fill="#902070" textLength="95" lengthAdjust="spacingAndGlyphs" fill-opacity="0.8">Tag_22 EGSlam Ground Truth</text>
<text x="785" y="805" font-family="Liberation Sans" font-size="8" fill="#606060" textLength="60" lengthAdjust="spacingAndGlyphs" fill-opacity="0.7">Tag_22 EGSlam</text>
<path d="M786 700 L783 760" stroke="#404060" stroke-width="1" fill="none"/>
<path d="M800 805 L797 870" stroke="#405040" stroke-width="1" fill="none"/>
<line x1="890" y1="698" x2="1021" y2="698" stroke="#f01010" stroke-width="1.8"/>
<line x1="890" y1="700.6" x2="1021" y2="700.6" stroke="#f01010" stroke-width="1.8"/>
<line x1="890" y1="715.6" x2="991" y2="715.6" stroke="#f01010" stroke-width="1.8"/>
<line x1="890" y1="787.4" x2="1034" y2="787.4" stroke="#f01010" stroke-width="1.8"/>
<line x1="890" y1="789.5" x2="1034" y2="789.5" stroke="#f01010" stroke-width="1.8"/>
<line x1="890" y1="806" x2="1006" y2="806" stroke="#f01010" stroke-width="1.8"/>
<line x1="788.5" y1="549" x2="794.5" y2="977" stroke="#2a10d0" stroke-width="1.8"/>
<line x1="808" y1="549" x2="804.5" y2="977" stroke="#2a10d0" stroke-width="1.8"/>
<line x1="819.5" y1="549" x2="819.3" y2="977" stroke="#2a10d0" stroke-width="1.8"/>
<line x1="781.5" y1="590" x2="781.5" y2="700" stroke="#1010f0" stroke-width="1.5"/>
<text x="583.3" y="995" font-family="Liberation Serif" font-size="25" fill="#000">(d)</text>
</svg>
</body></html>
